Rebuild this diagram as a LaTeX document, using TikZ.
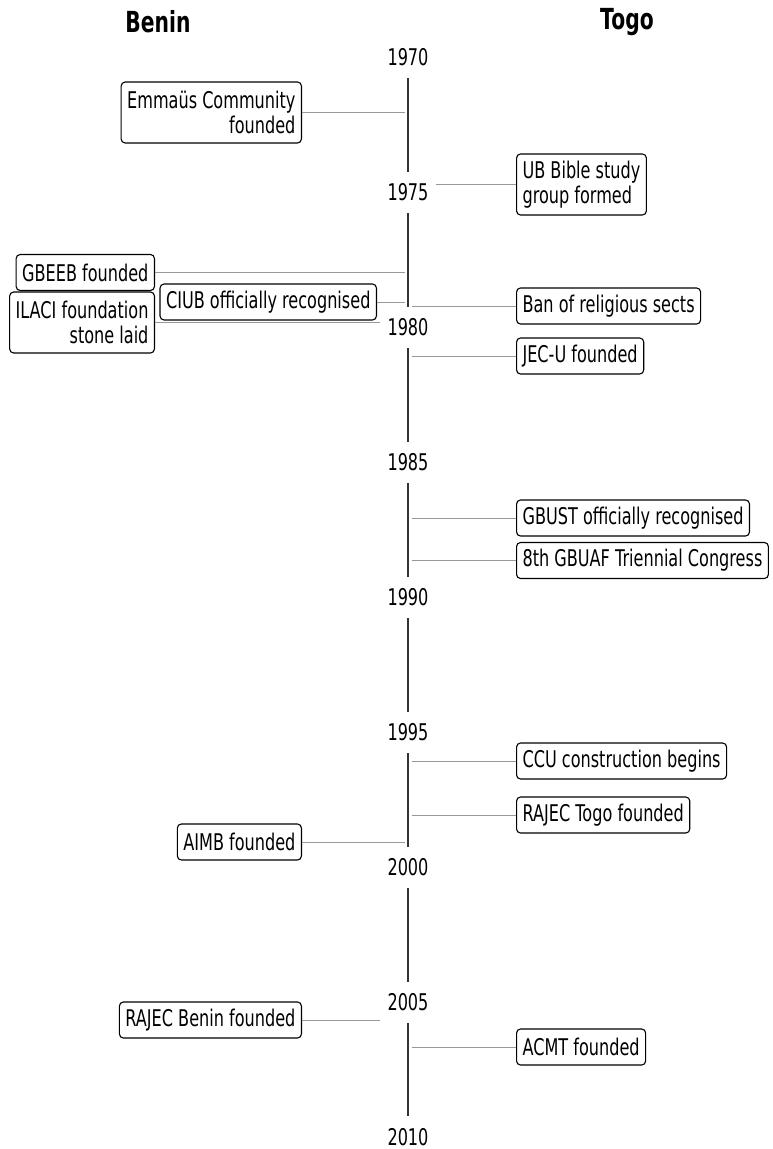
\documentclass[tikz,border=0pt]{standalone}
\usepackage{fontspec}
\setmainfont[FakeStretch=0.7]{DejaVu Sans}
\usepackage{tikz}

\newcommand{\tlfont}{\fontsize{23}{25}\selectfont}
\newcommand{\hdfont}{\fontsize{29}{32}\selectfont\bfseries}

\tikzset{
	evt/.style = {draw, fill=white, rounded corners=4, line width=1.1, inner xsep=6, inner ysep=0, minimum height=36, font=\tlfont},
	evttwo/.style = {evt, minimum height=61},
	conn/.style = {draw=black!40, line width=1},
	axis/.style = {draw=black!80, line width=1.6},
	yr/.style = {fill=white, inner sep=0, minimum width=56, minimum height=41, font=\tlfont},
	hd/.style = {font=\hdfont}
}

\begin{document}
\begin{tikzpicture}[x=1pt, y=-1pt]
	\useasboundingbox (0,0) rectangle (773,1149);

	\node [hd] (benin) at (158,22) {Benin};
	\node [hd] (togo) at (627,22) {Togo};

	\coordinate (axtop) at (408,57.5);
	\coordinate (axbot) at (408,1116);
	\coordinate (axl) at (405,0);
	\coordinate (axr) at (412,0);

	% Benin side
	\node [evttwo, anchor=east, align=right] (emmaus) at (302,112.5) {Emmaüs Community\\founded};
	\node [evt, anchor=east] (gbeeb) at (155,272.5) {GBEEB founded};
	\node [evt, anchor=east] (ciub) at (377,302) {CIUB officially recognised};
	\node [evttwo, anchor=east, align=right] (ilaci) at (155,322.5) {ILACI foundation\\stone laid};
	\node [evt, anchor=east] (aimb) at (302,842) {AIMB founded};
	\node [evt, anchor=east] (rajecb) at (302,1020) {RAJEC Benin founded};

	% Togo side
	\node [evttwo, anchor=west, align=left] (ub) at (516,184.5) {UB Bible study\\group formed};
	\node [evt, anchor=west] (ban) at (516,306) {Ban of religious sects};
	\node [evt, anchor=west] (jecu) at (516,356) {JEC-U founded};
	\node [evt, anchor=west] (gbust) at (516,518) {GBUST officially recognised};
	\node [evt, anchor=west] (gbuaf) at (516,560.5) {8th GBUAF Triennial Congress};
	\node [evt, anchor=west] (ccu) at (516,761) {CCU construction begins};
	\node [evt, anchor=west] (raject) at (516,815) {RAJEC Togo founded};
	\node [evt, anchor=west] (acmt) at (516,1047) {ACMT founded};

	\draw [conn] (emmaus.east) -- (emmaus.east -| axl);
	\draw [conn] (gbeeb.east) -- (gbeeb.east -| axl);
	\draw [conn] (ciub.east) -- (ciub.east -| axl);
	\draw [conn] (ilaci.east) -- (ilaci.east -| axl);
	\draw [conn] (aimb.east) -- (aimb.east -| axl);
	\draw [conn] (rajecb.east) -- (rajecb.east -| axl);
	\draw [conn] (ub.west) -- (ub.west -| axr);
	\draw [conn] (ban.west) -- (ban.west -| axr);
	\draw [conn] (jecu.west) -- (jecu.west -| axr);
	\draw [conn] (gbust.west) -- (gbust.west -| axr);
	\draw [conn] (gbuaf.west) -- (gbuaf.west -| axr);
	\draw [conn] (ccu.west) -- (ccu.west -| axr);
	\draw [conn] (raject.west) -- (raject.west -| axr);
	\draw [conn] (acmt.west) -- (acmt.west -| axr);

	\draw [axis] (axtop) -- (axbot);

	% years
	\node [yr] (y1970) at (408,57.5) {1970};
	\node [yr] (y1975) at (408,192.5) {1975};
	\node [yr] (y1980) at (408,327.5) {1980};
	\node [yr] (y1985) at (408,462.5) {1985};
	\node [yr] (y1990) at (408,597.5) {1990};
	\node [yr] (y1995) at (408,732.5) {1995};
	\node [yr] (y2000) at (408,867.5) {2000};
	\node [yr] (y2005) at (408,1002.5) {2005};
	\node [yr, minimum height=18, anchor=base] (y2010) at (408,1145) {2010};
\end{tikzpicture}
\end{document}
